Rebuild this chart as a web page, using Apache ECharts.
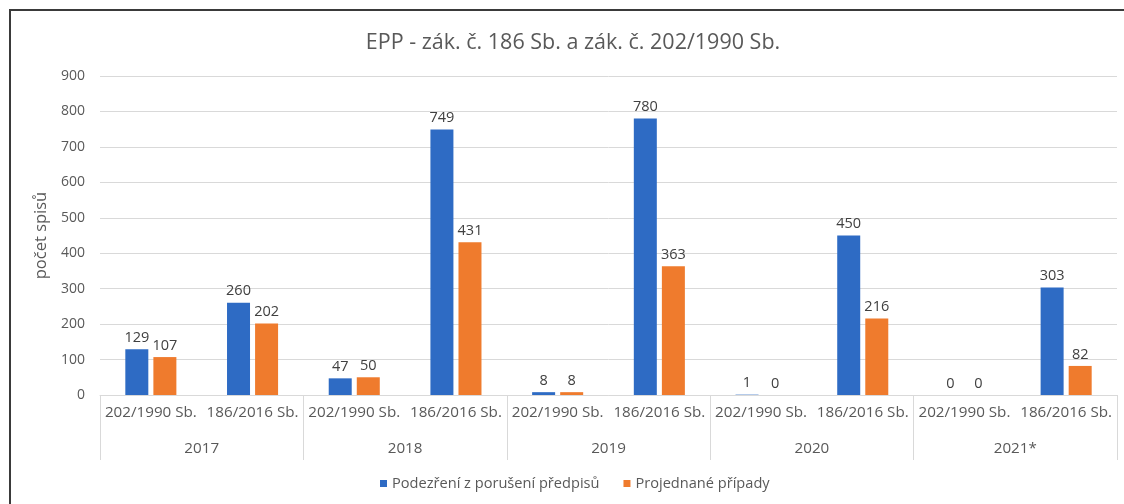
<!DOCTYPE html>
<html>
<head>
<meta charset="utf-8">
<script src="https://cdn.jsdelivr.net/npm/echarts@6/dist/echarts.min.js"></script>
<style>
html,body{margin:0;padding:0;background:#fff;overflow:hidden;}
#frame{position:absolute;left:9px;top:9px;width:1300px;height:700px;border-left:2px solid #3a3a3a;border-top:2px solid #3a3a3a;box-sizing:border-box;}
#chart{position:absolute;left:0;top:0;width:1124px;height:504px;}
</style>
</head>
<body>
<div id="frame"></div>
<div id="chart"></div>
<script>
const subCategories = ['202/1990 Sb.','186/2016 Sb.','202/1990 Sb.','186/2016 Sb.','202/1990 Sb.','186/2016 Sb.','202/1990 Sb.','186/2016 Sb.','202/1990 Sb.','186/2016 Sb.'];
const years = ['2017','2018','2019','2020','2021*'];
const podezreni = [129, 260, 47, 749, 8, 780, 1, 450, 0, 303];
const projednane = [107, 202, 50, 431, 8, 363, 0, 216, 0, 82];
const yTicks = { min: 0, max: 900, interval: 100 };

const font = '"Open Sans", Lato, sans-serif';
const chart = echarts.init(document.getElementById('chart'));
chart.setOption({
  backgroundColor: 'transparent',
  animation: false,
  title: {
    text: 'EPP - zák. č. 186 Sb. a zák. č. 202/1990 Sb.',
    left: 568, top: 27, textAlign: 'center',
    textStyle: { fontFamily: font, fontSize: 21.5, fontWeight: 'normal', color: '#595959' }
  },
  legend: {
    bottom: 8, left: 375,
    itemWidth: 7, itemHeight: 7, itemGap: 24,
    icon: 'rect',
    textStyle: { fontFamily: font, fontSize: 14.6, color: '#595959' },
    data: ['Podezření z porušení předpisů', 'Projednané případy']
  },
  grid: { left: 100, right: 7, top: 76, bottom: 109, containLabel: false },
  xAxis: [
    {
      type: 'category', data: subCategories, position: 'bottom', offset: 0,
      axisLine: { show: true, lineStyle: { color: '#d9d9d9', width: 1 } },
      axisTick: { show: false },
      axisLabel: { interval: 0, margin: 10, fontFamily: font, fontSize: 15.2, color: '#595959' }
    },
    {
      type: 'category', data: years, position: 'bottom', offset: 0,
      axisLine: { show: false },
      axisTick: { show: true, interval: 0, length: 65, lineStyle: { color: '#d9d9d9', width: 1 } },
      axisLabel: { interval: 0, margin: 46, fontFamily: font, fontSize: 15.2, color: '#595959' }
    }
  ],
  yAxis: {
    type: 'value', min: yTicks.min, max: yTicks.max, interval: yTicks.interval,
    name: 'počet spisů', nameLocation: 'middle', nameGap: 48,
    nameTextStyle: { fontFamily: font, fontSize: 16.5, color: '#595959' },
    axisLine: { show: false }, axisTick: { show: false },
    axisLabel: { margin: 15, fontFamily: font, fontSize: 14, color: '#595959' },
    splitLine: { lineStyle: { color: '#d9d9d9', width: 1 } }
  },
  series: [
    {
      name: 'Podezření z porušení předpisů', type: 'bar', xAxisIndex: 0,
      data: podezreni, barWidth: 23, barGap: '22%',
      itemStyle: { color: '#2E6BC4' },
      label: { show: true, position: 'top', distance: 4, fontFamily: font, fontSize: 14.5, color: '#404040' }
    },
    {
      name: 'Projednané případy', type: 'bar', xAxisIndex: 0,
      data: projednane, barWidth: 23,
      itemStyle: { color: '#EF7B2D' },
      label: { show: true, position: 'top', distance: 4, fontFamily: font, fontSize: 14.5, color: '#404040' }
    }
  ]
});
</script>
</body>
</html>
